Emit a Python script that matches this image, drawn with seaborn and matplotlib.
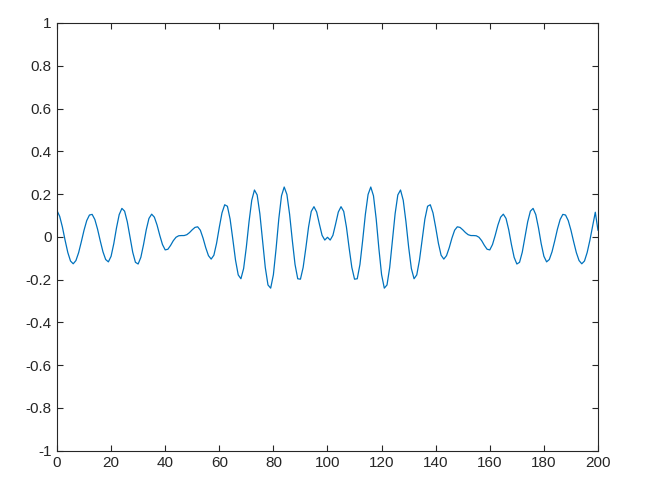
import numpy as np
import pandas as pd
import seaborn as sns
import matplotlib
matplotlib.use("Agg")
import matplotlib.pyplot as plt

# sample index and signal values
x_vals = list(range(0, 201))
y_vals = [
    0.123, 0.096, 0.046, -0.016, -0.073, -0.113, -0.126, -0.111, -0.074, -0.023,
    0.031, 0.076, 0.102, 0.105, 0.081, 0.036, -0.019, -0.070, -0.106, -0.117,
    -0.091, -0.032, 0.042, 0.104, 0.133, 0.120, 0.070, -0.001, -0.072, -0.119,
    -0.127, -0.096, -0.036, 0.033, 0.086, 0.106, 0.092, 0.055, 0.007, -0.036,
    -0.061, -0.058, -0.040, -0.018, -0.002, 0.005, 0.006, 0.006, 0.010, 0.020,
    0.033, 0.044, 0.047, 0.031, -0.006, -0.051, -0.088, -0.104, -0.086, -0.030,
    0.044, 0.112, 0.150, 0.143, 0.083, -0.011, -0.109, -0.178, -0.196, -0.148,
    -0.048, 0.071, 0.171, 0.219, 0.196, 0.108, -0.019, -0.143, -0.225, -0.240,
    -0.177, -0.055, 0.084, 0.192, 0.233, 0.198, 0.105, -0.017, -0.129, -0.196,
    -0.198, -0.143, -0.052, 0.046, 0.119, 0.141, 0.116, 0.060, 0.007, -0.015,
    -0.002,
    -0.015, 0.007, 0.060, 0.116, 0.141, 0.119, 0.046, -0.052, -0.143, -0.198,
    -0.196, -0.129, -0.017, 0.105, 0.198, 0.233, 0.192, 0.084, -0.055, -0.177,
    -0.240, -0.225, -0.143, -0.019, 0.108, 0.196, 0.219, 0.171, 0.071, -0.048,
    -0.148, -0.196, -0.178, -0.109, -0.011, 0.083, 0.143, 0.150, 0.112, 0.044,
    -0.030, -0.086, -0.104, -0.088, -0.051, -0.006, 0.031, 0.047, 0.044, 0.033,
    0.020, 0.010, 0.006, 0.006, 0.005, -0.002, -0.018, -0.040, -0.058, -0.061,
    -0.036, 0.007, 0.055, 0.092, 0.106, 0.086, 0.033, -0.036, -0.096, -0.127,
    -0.119, -0.072, -0.001, 0.070, 0.120, 0.133, 0.104, 0.042, -0.032, -0.091,
    -0.117, -0.106, -0.070, -0.019, 0.036, 0.081, 0.105, 0.102, 0.076, 0.031,
    -0.023, -0.074, -0.111, -0.126, -0.113, -0.073, -0.016, 0.050, 0.115, 0.030,
]
x_ticks = [0, 20, 40, 60, 80, 100, 120, 140, 160, 180, 200]
y_ticks = [-1, -0.8, -0.6, -0.4, -0.2, 0, 0.2, 0.4, 0.6, 0.8, 1]
y_tick_labels = ['-1', '-0.8', '-0.6', '-0.4', '-0.2', '0', '0.2', '0.4', '0.6', '0.8', '1']

df = pd.DataFrame({'n': x_vals, 'y': y_vals})

sns.set_style("white")
plt.rcParams['font.family'] = ['Liberation Sans', 'DejaVu Sans']

fig = plt.figure(figsize=(6.46, 4.90), dpi=100)
ax = fig.add_axes([0.0882, 0.0802, 0.8375, 0.8729])

sns.lineplot(data=df, x='n', y='y', color='#0072BD', linewidth=0.9, ax=ax)

ax.set_xlim(0, 200)
ax.set_ylim(-1, 1)
ax.set_xticks(x_ticks)
ax.set_yticks(y_ticks)
ax.set_yticklabels(y_tick_labels)
ax.set_xlabel('')
ax.set_ylabel('')

for side in ax.spines.values():
    side.set_color('#262626')
    side.set_linewidth(0.8)
ax.tick_params(direction='in', length=4, width=0.8, color='#262626',
               labelcolor='#262626', labelsize=11, pad=4,
               top=True, right=True, bottom=True, left=True)

fig.savefig('out.png', dpi=100)
